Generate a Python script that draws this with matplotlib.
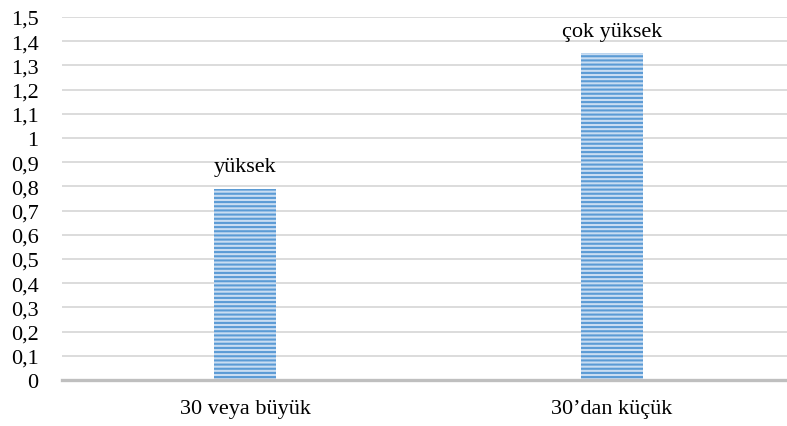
import matplotlib.pyplot as plt

# Chart data
categories = ["30 veya büyük", "30\u2019dan küçük"]
values = [0.79, 1.35]
bar_labels = ["yüksek", "çok yüksek"]
y_ticks = [0, 0.1, 0.2, 0.3, 0.4, 0.5, 0.6, 0.7, 0.8, 0.9, 1.0, 1.1, 1.2, 1.3, 1.4, 1.5]

plt.rcParams['font.family'] = ['Liberation Serif', 'DejaVu Serif']
plt.rcParams['hatch.linewidth'] = 1.5

fig = plt.figure(figsize=(7.87, 4.27), dpi=100)
ax = fig.add_axes([62 / 787, 46 / 427, 725 / 787, 363 / 427])

x = list(range(len(categories)))
# the edge colour doubles as the stripe colour, so the outline itself is hidden
bars = ax.bar(x, values, width=0.169, color='#c9ddf2', edgecolor='#5b9bd5',
              linewidth=0, hatch='----', zorder=3)

# value words above each bar
for xi, v, lab in zip(x, values, bar_labels):
    ax.annotate(lab, (xi, v), xytext=(0, 9), textcoords='offset points',
                ha='center', va='bottom', fontsize=16, color='black')

ax.set_xlim(-0.4986, 1.477)
ax.set_ylim(0, 1.5)
ax.set_yticks(y_ticks)
ax.set_yticklabels([("%g" % t).replace('.', ',') for t in y_ticks], fontsize=16)
ax.set_xticks(x)
ax.set_xticklabels(categories, fontsize=16)

ax.tick_params(axis='y', length=0, pad=17, labelcolor='black')
ax.tick_params(axis='x', length=0, pad=14, labelcolor='black')

ax.grid(axis='y', color='#d9d9d9', linewidth=1.3, zorder=0)
for s in ['top', 'right', 'left']:
    ax.spines[s].set_visible(False)
ax.spines['bottom'].set_color('#bfbfbf')
ax.spines['bottom'].set_linewidth(2.4)
ax.spines['bottom'].set_zorder(4)

fig.savefig('out.png', dpi=100)
